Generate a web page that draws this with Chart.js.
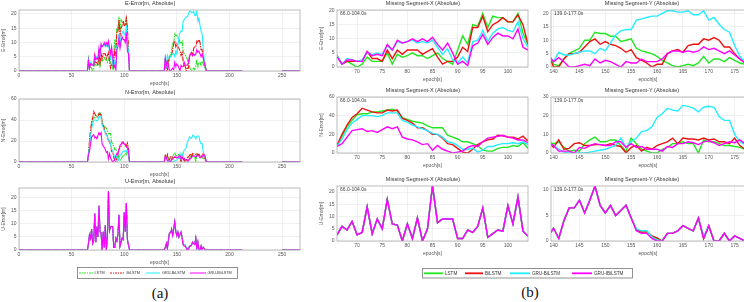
<!DOCTYPE html>
<html><head><meta charset="utf-8">
<script src="https://cdn.jsdelivr.net/npm/chart.js@4/dist/chart.umd.min.js"></script>
<style>
html,body{margin:0;padding:0;background:#fff;}
body{width:744px;height:302px;position:relative;overflow:hidden;font-family:"Liberation Sans",Arial,sans-serif;}
.lab{position:absolute;font-family:"Liberation Serif","Times New Roman",serif;font-size:15px;color:#111;transform:translate(-50%,-50%);}
</style></head><body>
<div class="lab" style="left:160px;top:293px">(a)</div>
<div class="lab" style="left:530px;top:292px">(b)</div>
<canvas id="leg" width="744" height="20" style="position:absolute;left:0;top:262px"></canvas>
<script>
// ---------- data ----------
const seriesNames = ['LSTM','BiLSTM','GRU-BiLSTM','GRU-IBiLSTM'];
const seriesColors = ['#22e622','#ee1111','#22eeff','#ff00ff'];
const segXStart = 66;   // Missing Segment-X: 66.0-104.0 s
const segYStart = 139;  // Missing Segment-Y: 139.0-177.0 s
const idleSpans = [[0,65],[105,138],[178,212],[250,267]];

// E-error, segment X (66..104)
const eErrX_LSTM      = [4,1,2,1,0,1,3.5,2,2,2, 5,1,4.5,3.5,4,5,4,4,3,4, 5,3,2,1,6,11,8,15,14.5,19, 14,18,17.5,17.5,16,16,19,12,8];
const eErrX_BiLSTM    = [4,1,2,2,2,2,5.5,3,3,2, 6,3,6,4.5,6,6,6,4.5,5.5,6.5, 3.5,1,2,2,3.5,7,5.5,14,14,18, 12.5,15,16,17.5,16,16,18.5,15,8];
const eErrX_GRUBiLSTM = [4,1,3,2.5,2,2.5,5,4.5,5,4.5, 7.5,6,9,8.5,9,9.5,8.5,9,8.5,9.5, 7,4.5,6.5,2.5,1.5,3.5,1.5,9,9.5,13, 9,12,13.5,14,13,12.5,16,10,7];
const eErrX_GRUIBiLSTM= [3.5,1,2.5,2.5,2,2,5.5,4,4.5,4, 8,6,9.5,8.5,9,10,9,10,9,10.5, 8,6,8.5,5,1,2,0.5,7.5,8.5,11.5, 8,10.5,12,11,11,10,13.5,7,6];
// E-error, segment Y (139..177)
const eErrY_LSTM      = [4.5,1,0.5,3,5,6,7,10,10,13, 12.5,12.5,11.5,11.5,9.5,10,10.5,7,6,5.5, 5,4,2.5,1.5,0.5,0,0.5,1,0.5,1.5, 4,1.5,3,3,2,3.5,2.5,1.5,1];
const eErrY_BiLSTM    = [4.5,0,0,3,5,5,5.5,7.5,9.5,10.5, 8.5,9.5,8.5,8,7,5.5,6.5,3.5,2.5,1.5, 0,1,1,5,6,6.5,5.5,8,8.5,8.5, 10.5,10,11,10,7.5,7.5,5,3,1.5];
const eErrY_GRUBiLSTM = [4.5,2,5.5,4.5,4.5,5,5.5,6,6,5, 7,6,9,12,13.5,14,14,17.5,18,18.5, 19,19,20,21,21,20.5,20.5,21,19.5,19.5, 21,17.5,18.5,16,14,13,8,4,2];
const eErrY_GRUIBiLSTM= [4.5,2,3.5,2,0,0,0.5,1,0.5,3, 1.5,2.5,2,1,0,2,1.5,1.5,3,2, 2,2,3,5,6,6,5.5,6,5.5,6, 7.5,6.5,7,6,5,6,4.5,3,1.5];
// N-error, segment X
const nErrX_LSTM      = [8,18,28,35,41,42,42,44,44,45, 46,47,45,38,36,34,33,32,29,27, 27,27,19,17,15,12,12,10,8,3, 2,2,5,6,6,8,7,11,5];
const nErrX_BiLSTM    = [8,20,30,38,42,48,46,44,43,43, 46,45,46,37,35,32,27,27,24,20, 20,16,10,9,5,1,0,4,9,12, 14,15,19,18.5,17,17,15,18,13];
const nErrX_GRUBiLSTM = [7,15,25,32,36,40,40,40,39,40, 43,43,43,35,33,30,28,26,24,21, 20,17,12,11,8,4,4,5,1,3, 7,7,9,10,10,11,10,12,9];
const nErrX_GRUIBiLSTM= [7,10,17,24,25,26,23,24,22,25, 28,26,28,17,15,14,12,9,10,3, 8,4,2,0,1,2,6,8,7,12, 16,17,18,19,17,16,14,14,11];
// N-error, segment Y
const nErrY_LSTM      = [6,5,6,3,1,1.5,1,5,7,8.5, 6,6,7,7,4,1,8,5,2,1, 0,0,2,3,5,5,6,5,5,0, 7,6,6,5,4,4,3.5,3,2];
const nErrY_BiLSTM    = [6,3,7,2,2.5,5,5.5,4,4,4.5, 4.5,4,5,4,3.5,0,3,4,1,3, 2,4,5,6,8,5,8,7.5,7.5,7, 8,7,7.5,6,6,5,8,4,2];
const nErrY_GRUBiLSTM = [5,4,2,0.5,0,0,0,0,0.5,1, 1.5,2,3,4,8,3,6,8,11.5,12, 14,19,21,24,23,22.5,25.5,25,24,22, 24.5,25,24.5,19.5,17.5,17.5,10,6,4.5];
const nErrY_GRUIBiLSTM= [5.5,4,1,1,1,0,3,2.5,4,5, 4.5,4,4,6,6,3,5,3,3.5,2, 2,2,1,3.5,3,5,5,6,5.5,4.5, 6,6.5,5.5,4,5,6,5.5,7,5];
// U-error, segment X (all models almost identical)
const uErrX_LSTM      = [2.5,6,4.5,8,2.5,3.5,14,3,9,5, 17,7,6.5,0,7,1,9.5,0,5,22.5, 7.5,9,9,9,1,1,4.5,3.5,6,13.5, 1.5,3,4.5,4,14.5,7,18,4,2];
const uErrX_BiLSTM    = [2.5,6,4.5,8,2.5,3.5,14,3,9,5, 17,7,6.5,0,7,1,9.5,0,5,22.5, 7.5,9,9,9,1,1,4.5,3.5,6,13.5, 1.5,3,4.5,4,14.5,7,18,4,2];
const uErrX_GRUBiLSTM = [2.5,6,4.5,8,2.5,3.5,14,3,9,5, 17,7,6.5,0,7,1,9.5,0,5,22.5, 7.5,9,9,9,1,1,4.5,3.5,6,13.5, 1.5,3,4.5,4,14.5,7,18,4,2];
const uErrX_GRUIBiLSTM= [2.5,6,4.5,8,2.5,3.5,14,3,9,5, 17,7,6.5,0,7,1,9.5,0,5,22.5, 7.5,9,9,9,1,1,4.5,3.5,6,13.5, 1.5,3,4.5,4,14.5,7,18,4,2];
// U-error, segment Y
const uErrY_LSTM      = [1,2.5,0.5,4,6.5,6.5,8,5.5,8,10.8, 7,5.5,7,5,6,7,4.5,2.3,1.9,2, 0.9,0.4,0,1.5,1.5,2,3,2.5,2,4.5, 0.5,3,0,0,1.5,0,1,0.5,0];
const uErrY_BiLSTM    = [1,2.5,0.5,4,6.5,6.5,8,5.5,8,10.8, 7,5.5,7,5,6,7,4.5,2.2,1.7,1.8, 1.0,0.6,0,1.5,1.5,2,3,2.5,2,4.5, 0.5,3,0,0,1.5,0,1,0.5,0];
const uErrY_GRUBiLSTM = [1,2.5,0.5,4,6.5,6.5,8,5.5,8,10.8, 7,5.5,7,5,6,7,4.5,2.4,2,2, 0.8,0.2,0,1.5,1.5,2,3,2.5,2,4.5, 0.9,3,0,0,1.5,0,1,0.5,0];
const uErrY_GRUIBiLSTM= [1,2.5,0.5,4,6.5,6.5,8,5.5,8,10.8, 7,5.5,7,5,6,7,4.5,2,1.5,1.5, 0.5,0,0,1.5,1.5,2,3,2.5,2,4.5, 0.5,3,0,0,1.5,0,1,0.5,0];

// ticks
const xTicksFull = [0,50,100,150,200,250];
const xTicksSegX = [70,75,80,85,90,95,100];
const xTicksSegY = [140,145,150,155,160,165,170,175];
const yTicksE = [0,5,10,15,20];
const yTicksN = [0,20,40,60];
const yTicksU = [0,5,10,15,20];
const yTicksNY = [0,10,20,30];
const yTicksUY = [0,5,10];

// ---------- drawing ----------
Chart.defaults.font.family = '"Liberation Sans", Arial, sans-serif';
Chart.defaults.color = '#555';

const boxPlugin = {
  id: 'box',
  afterDraw(chart, args, o) {
    const a = chart.chartArea, ctx = chart.ctx;
    ctx.save();
    ctx.strokeStyle = '#a0a0a0'; ctx.lineWidth = 0.7;
    ctx.strokeRect(a.left, a.top, a.right - a.left, a.bottom - a.top);
    if (o.note) {
      ctx.fillStyle = '#444'; ctx.font = '5px "Liberation Sans", Arial';
      ctx.textBaseline = 'top'; ctx.textAlign = 'left';
      ctx.fillText(o.note, a.left + 3, a.top + 1.5);
    }
    ctx.restore();
  }
};

function segPoints(arr, start) { return arr.map((v, i) => ({x: start + i, y: v})); }
function fullSeries(segX, segY) {
  const pts = [];
  pts.push({x: idleSpans[0][0], y: 0}, {x: idleSpans[0][1], y: 0});
  pts.push(...segPoints(segX, segXStart));
  pts.push({x: idleSpans[1][0], y: 0}, {x: idleSpans[1][1], y: 0});
  pts.push(...segPoints(segY, segYStart));
  pts.push({x: idleSpans[2][0], y: 0}, {x: idleSpans[2][1], y: 0});
  pts.push({x: (idleSpans[2][1] + idleSpans[3][0]) / 2, y: null});
  pts.push({x: idleSpans[3][0], y: 0}, {x: idleSpans[3][1], y: 0});
  return pts;
}
function makeSets(list, full) {
  return list.map((pts, i) => ({
    label: seriesNames[i], data: pts, borderColor: seriesColors[i],
    borderWidth: full ? 1.1 : 1.4, order: 3 - i,
    borderDash: (full && i < 2) ? [5, 1, 1.5, 1] : []
  }));
}

function mk(c) {
  const TH = 10, XH = 17, PR = 2, TS = 5.5;
  const left = c.l - c.yw, top = c.t - TH;
  const w = c.r - left + PR, h = c.b - top + XH;
  const div = document.createElement('div');
  div.style.cssText = `position:absolute;left:${left}px;top:${top}px;width:${w}px;height:${h}px`;
  const cv = document.createElement('canvas');
  div.appendChild(cv); document.body.appendChild(div);
  const grid = {color: '#e6e6e6', drawTicks: false, lineWidth: 0.6};
  new Chart(cv, {
    type: 'line',
    data: {datasets: c.datasets},
    options: {
      animation: false, responsive: true, maintainAspectRatio: false,
      layout: {padding: {left: 0, right: PR, top: 0, bottom: 0}},
      elements: {point: {radius: 0}, line: {tension: 0}},
      plugins: {
        legend: {display: false}, tooltip: {enabled: false},
        title: {display: true, text: c.title, color: '#333', font: {size: TS, weight: 'normal'},
                padding: {top: 0, bottom: TH - TS * 1.2}},
        box: {note: c.note}
      },
      scales: {
        x: {
          type: 'linear', min: c.xmin, max: c.xmax,
          afterFit: s => { s.height = XH; },
          afterBuildTicks: s => { s.ticks = c.xticks.map(v => ({value: v})); },
          ticks: {font: {size: 5}, padding: 2, maxRotation: 0, autoSkip: false, color: '#555'},
          grid: grid, border: {display: false},
          title: {display: true, text: 'epoch[s]', color: '#555', font: {size: 5}, padding: {top: 0, bottom: 1}}
        },
        y: {
          type: 'linear', min: 0, max: c.ymax,
          afterFit: s => { s.width = c.yw; },
          afterBuildTicks: s => { s.ticks = c.yticks.map(v => ({value: v})); },
          ticks: {font: {size: 5}, padding: 2.5, color: '#555'},
          grid: grid, border: {display: false},
          title: {display: !!c.ylabel, text: c.ylabel || '', color: '#555', font: {size: 5}, padding: {top: 1, bottom: 0}}
        }
      }
    },
    plugins: [boxPlugin]
  });
}

// (a) full-run panels
mk({l: 19, r: 300, t: 10, b: 71, yw: 19, title: 'E-Error[m, Absolute]', ylabel: 'E-Error[m]',
    xmin: 0, xmax: 267, xticks: xTicksFull, ymax: 21.4, yticks: yTicksE,
    datasets: makeSets([fullSeries(eErrX_LSTM, eErrY_LSTM), fullSeries(eErrX_BiLSTM, eErrY_BiLSTM),
      fullSeries(eErrX_GRUBiLSTM, eErrY_GRUBiLSTM), fullSeries(eErrX_GRUIBiLSTM, eErrY_GRUIBiLSTM)], true)});
mk({l: 19, r: 300, t: 99, b: 162, yw: 19, title: 'N-Error[m, Absolute]', ylabel: 'N-Error[m]',
    xmin: 0, xmax: 267, xticks: xTicksFull, ymax: 60, yticks: yTicksN,
    datasets: makeSets([fullSeries(nErrX_LSTM, nErrY_LSTM), fullSeries(nErrX_BiLSTM, nErrY_BiLSTM),
      fullSeries(nErrX_GRUBiLSTM, nErrY_GRUBiLSTM), fullSeries(nErrX_GRUIBiLSTM, nErrY_GRUIBiLSTM)], true)});
mk({l: 19, r: 300, t: 188, b: 250, yw: 19, title: 'U-Error[m, Absolute]', ylabel: 'U-Error[m]',
    xmin: 0, xmax: 267, xticks: xTicksFull, ymax: 23.8, yticks: yTicksU,
    datasets: makeSets([fullSeries(uErrX_LSTM, uErrY_LSTM), fullSeries(uErrX_BiLSTM, uErrY_BiLSTM),
      fullSeries(uErrX_GRUBiLSTM, uErrY_GRUBiLSTM), fullSeries(uErrX_GRUIBiLSTM, uErrY_GRUIBiLSTM)], true)});

// (b) segment panels
const noteX = '66.0-104.0s', noteY = '139.0-177.0s';
const colX = {l: 337, r: 528, yw: 19, xmin: 66, xmax: 104, xticks: xTicksSegX, title: 'Missing Segment-X (Absolute)', note: noteX};
const colY = {l: 551, r: 745, yw: 12, xmin: 139.5, xmax: 177, xticks: xTicksSegY, title: 'Missing Segment-Y (Absolute)', note: noteY};
const segSets = (arrs, start) => makeSets(arrs.map(a => segPoints(a, start)), false);

mk(Object.assign({}, colX, {t: 10, b: 67, ylabel: 'E-Error[m]', ymax: 20.2, yticks: yTicksE,
  datasets: segSets([eErrX_LSTM, eErrX_BiLSTM, eErrX_GRUBiLSTM, eErrX_GRUIBiLSTM], segXStart)}));
mk(Object.assign({}, colY, {t: 10, b: 67, ymax: 21.3, yticks: yTicksE,
  datasets: segSets([eErrY_LSTM, eErrY_BiLSTM, eErrY_GRUBiLSTM, eErrY_GRUIBiLSTM], segYStart)}));
mk(Object.assign({}, colX, {t: 97, b: 153, ylabel: 'N-Error[m]', ymax: 60, yticks: yTicksN,
  datasets: segSets([nErrX_LSTM, nErrX_BiLSTM, nErrX_GRUBiLSTM, nErrX_GRUIBiLSTM], segXStart)}));
mk(Object.assign({}, colY, {t: 97, b: 153, ymax: 30, yticks: yTicksNY,
  datasets: segSets([nErrY_LSTM, nErrY_BiLSTM, nErrY_GRUBiLSTM, nErrY_GRUIBiLSTM], segYStart)}));
mk(Object.assign({}, colX, {t: 186, b: 241, ylabel: 'U-Error[m]', ymax: 22.5, yticks: yTicksU,
  datasets: segSets([uErrX_LSTM, uErrX_BiLSTM, uErrX_GRUBiLSTM, uErrX_GRUIBiLSTM], segXStart)}));
mk(Object.assign({}, colY, {t: 186, b: 241, ymax: 10.8, yticks: yTicksUY,
  datasets: segSets([uErrY_LSTM, uErrY_BiLSTM, uErrY_GRUBiLSTM, uErrY_GRUIBiLSTM], segYStart)}));

// legends
(function () {
  const ctx = document.getElementById('leg').getContext('2d');
  const Y0 = 262;
  function legend(box, y, items, fs, lw, dashed) {
    ctx.save();
    ctx.strokeStyle = '#777'; ctx.lineWidth = 0.8;
    ctx.fillStyle = '#fff';
    ctx.fillRect(box[0], box[1] - Y0, box[2] - box[0], box[3] - box[1]);
    ctx.strokeRect(box[0], box[1] - Y0, box[2] - box[0], box[3] - box[1]);
    items.forEach((it, i) => {
      ctx.strokeStyle = seriesColors[i]; ctx.lineWidth = lw;
      ctx.setLineDash(dashed && i < 2 ? [2, 1, 1, 1] : []);
      ctx.beginPath(); ctx.moveTo(it[0], y - Y0); ctx.lineTo(it[1], y - Y0); ctx.stroke();
      ctx.setLineDash([]);
      ctx.fillStyle = '#333'; ctx.font = fs + 'px "Liberation Sans", Arial';
      ctx.textBaseline = 'middle'; ctx.textAlign = 'left';
      ctx.fillText(seriesNames[i], it[2], y - Y0);
    });
    ctx.restore();
  }
  legend([77.5, 267.5, 237.5, 278.5], 273, [[79, 93, 94.5], [110, 125, 126.5], [146, 160, 162], [190, 206, 207.5]], 3.8, 1, true);
  legend([422.5, 268.5, 632.5, 278], 273.3, [[424, 443, 445], [465, 483, 485], [510, 530, 532], [572, 592, 594]], 4.6, 1.8, false);
})();
</script>
</body></html>
